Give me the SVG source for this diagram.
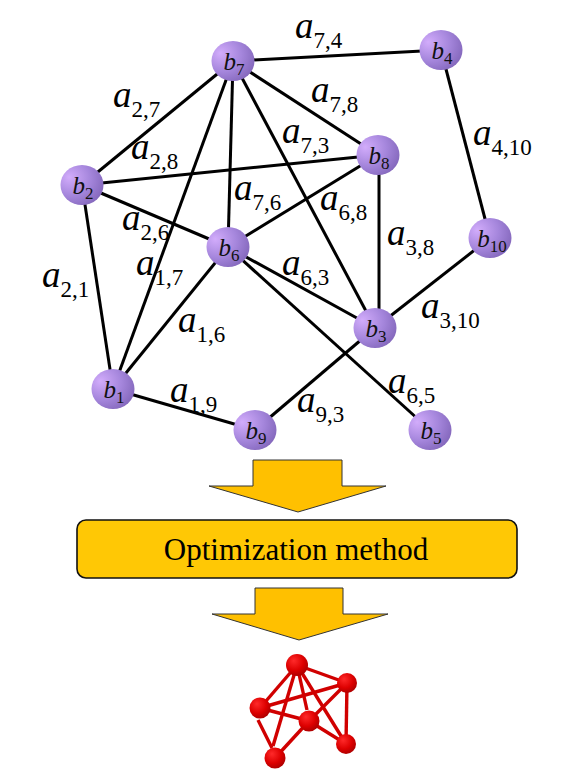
<svg xmlns="http://www.w3.org/2000/svg" width="583" height="782" viewBox="0 0 583 782">
<defs>
<radialGradient id="gNode" cx="0.3" cy="0.35" r="0.8" fx="0.2" fy="0.3">
<stop offset="0" stop-color="#d2acfb"/>
<stop offset="0.55" stop-color="#a586dc"/>
<stop offset="1" stop-color="#8064b8"/>
</radialGradient>
<radialGradient id="gRed" cx="0.4" cy="0.35" r="0.7" fx="0.35" fy="0.3">
<stop offset="0" stop-color="#ff2a2a"/>
<stop offset="0.6" stop-color="#dd0000"/>
<stop offset="1" stop-color="#a80000"/>
</radialGradient>
<style>
.edge{stroke:#000;stroke-width:3;fill:none;stroke-linecap:butt}
.node ellipse{fill:url(#gNode)}
.nt{font-family:"Liberation Serif",serif;font-style:italic;font-size:25px;fill:#111;text-anchor:middle}
.ns{font-style:normal;font-size:17px}
.lab{font-family:"Liberation Serif",serif;font-style:italic;font-size:37px;fill:#000}
.sub{font-style:normal;font-size:23px}
.arrow{fill:#ffc000;stroke:#333;stroke-width:1}
.box{fill:#ffc805;stroke:#111;stroke-width:1.6}
.btxt{font-family:"Liberation Serif",serif;font-size:31px;fill:#000;text-anchor:middle}
.redge{stroke:#d00000;stroke-width:3.4;fill:none}
.rnode{fill:url(#gRed)}
</style>
</defs>
<g id="connectors">
<line class="edge" x1="233" y1="61" x2="441" y2="50"/>
<line class="edge" x1="233" y1="61" x2="82" y2="185"/>
<line class="edge" x1="233" y1="61" x2="378" y2="155"/>
<line class="edge" x1="233" y1="61" x2="375" y2="328"/>
<line class="edge" x1="233" y1="61" x2="228" y2="247"/>
<line class="edge" x1="233" y1="61" x2="113" y2="389"/>
<line class="edge" x1="82" y1="185" x2="378" y2="155"/>
<line class="edge" x1="82" y1="185" x2="228" y2="247"/>
<line class="edge" x1="82" y1="185" x2="113" y2="389"/>
<line class="edge" x1="228" y1="247" x2="378" y2="155"/>
<line class="edge" x1="228" y1="247" x2="375" y2="328"/>
<line class="edge" x1="228" y1="247" x2="430" y2="430"/>
<line class="edge" x1="228" y1="247" x2="113" y2="389"/>
<line class="edge" x1="379" y1="170" x2="379" y2="312"/>
<line class="edge" x1="441" y1="50" x2="490" y2="238"/>
<line class="edge" x1="490" y1="238" x2="375" y2="328"/>
<line class="edge" x1="113" y1="389" x2="255" y2="430"/>
<line class="edge" x1="255" y1="430" x2="375" y2="328"/>
</g>
<g id="labels">
<text class="lab" x="295" y="38">a<tspan class="sub" dy="9.5">7,4</tspan></text>
<text class="lab" x="113" y="107">a<tspan class="sub" dy="9.5">2,7</tspan></text>
<text class="lab" x="311" y="102">a<tspan class="sub" dy="9.5">7,8</tspan></text>
<text class="lab" x="282" y="143">a<tspan class="sub" dy="9.5">7,3</tspan></text>
<text class="lab" x="131" y="159">a<tspan class="sub" dy="9.5">2,8</tspan></text>
<text class="lab" x="473" y="145">a<tspan class="sub" dy="9.5">4,10</tspan></text>
<text class="lab" x="234" y="200">a<tspan class="sub" dy="9.5">7,6</tspan></text>
<text class="lab" x="320" y="210">a<tspan class="sub" dy="9.5">6,8</tspan></text>
<text class="lab" x="122" y="230">a<tspan class="sub" dy="9.5">2,6</tspan></text>
<text class="lab" x="387" y="245">a<tspan class="sub" dy="9.5">3,8</tspan></text>
<text class="lab" x="136" y="275">a<tspan class="sub" dy="9.5">1,7</tspan></text>
<text class="lab" x="42" y="287">a<tspan class="sub" dy="9.5">2,1</tspan></text>
<text class="lab" x="282" y="275">a<tspan class="sub" dy="9.5">6,3</tspan></text>
<text class="lab" x="421" y="318">a<tspan class="sub" dy="9.5">3,10</tspan></text>
<text class="lab" x="178" y="332">a<tspan class="sub" dy="9.5">1,6</tspan></text>
<text class="lab" x="388" y="393">a<tspan class="sub" dy="9.5">6,5</tspan></text>
<text class="lab" x="170" y="402">a<tspan class="sub" dy="9.5">1,9</tspan></text>
<text class="lab" x="297" y="412">a<tspan class="sub" dy="9.5">9,3</tspan></text>
</g>
<g id="b7" class="node"><ellipse cx="233" cy="61" rx="21.5" ry="20"/><text class="nt" x="234" y="70">b<tspan class="ns" dy="5">7</tspan></text></g>
<g id="b4" class="node"><ellipse cx="441" cy="50" rx="21.5" ry="20"/><text class="nt" x="442" y="59">b<tspan class="ns" dy="5">4</tspan></text></g>
<g id="b8" class="node"><ellipse cx="378" cy="155" rx="21.5" ry="20"/><text class="nt" x="379" y="164">b<tspan class="ns" dy="5">8</tspan></text></g>
<g id="b2" class="node"><ellipse cx="82" cy="185" rx="21.5" ry="20"/><text class="nt" x="83" y="194">b<tspan class="ns" dy="5">2</tspan></text></g>
<g id="b6" class="node"><ellipse cx="228" cy="247" rx="21.5" ry="20"/><text class="nt" x="229" y="256">b<tspan class="ns" dy="5">6</tspan></text></g>
<g id="b10" class="node"><ellipse cx="490" cy="238" rx="21.5" ry="20"/><text class="nt" x="492" y="247">b<tspan class="ns" dy="5">10</tspan></text></g>
<g id="b3" class="node"><ellipse cx="375" cy="328" rx="21.5" ry="20"/><text class="nt" x="376" y="337">b<tspan class="ns" dy="5">3</tspan></text></g>
<g id="b1" class="node"><ellipse cx="113" cy="389" rx="21.5" ry="20"/><text class="nt" x="114" y="398">b<tspan class="ns" dy="5">1</tspan></text></g>
<g id="b9" class="node"><ellipse cx="255" cy="430" rx="21.5" ry="20"/><text class="nt" x="256" y="439">b<tspan class="ns" dy="5">9</tspan></text></g>
<g id="b5" class="node"><ellipse cx="430" cy="430" rx="21.5" ry="20"/><text class="nt" x="431" y="439">b<tspan class="ns" dy="5">5</tspan></text></g>
<g id="arrow1"><polygon class="arrow" points="253,460 342,460 342,486 386,486 298,512 209,486 253,486"/></g>
<g id="method"><rect class="box" x="77" y="520" width="440" height="58" rx="9"/><text class="btxt" x="296" y="560">Optimization method</text></g>
<g id="arrow2"><polygon class="arrow" points="255,588 343,588 343,614 388,614 299,640 212,614 255,614"/></g>
<g id="molecule">
<line class="redge" x1="297" y1="665" x2="347" y2="683"/>
<line class="redge" x1="297" y1="665" x2="260" y2="708"/>
<line class="redge" x1="297" y1="665" x2="307" y2="710"/>
<line class="redge" x1="297" y1="665" x2="273" y2="746"/>
<line class="redge" x1="297" y1="665" x2="346" y2="744"/>
<line class="redge" x1="260" y1="708" x2="347" y2="683"/>
<line class="redge" x1="347" y1="683" x2="346" y2="744"/>
<line class="redge" x1="347" y1="683" x2="309" y2="721"/>
<line class="redge" x1="260" y1="708" x2="309" y2="721"/>
<line class="redge" x1="258" y1="720" x2="272" y2="748"/>
<line class="redge" x1="309" y1="721" x2="275" y2="758"/>
<line class="redge" x1="309" y1="721" x2="346" y2="744"/>
<circle class="rnode" cx="297" cy="665" r="11"/>
<circle class="rnode" cx="347" cy="683" r="10"/>
<circle class="rnode" cx="260" cy="708" r="10.5"/>
<circle class="rnode" cx="309" cy="721" r="10.5"/>
<circle class="rnode" cx="275" cy="758" r="10.5"/>
<circle class="rnode" cx="346" cy="744" r="10"/>
</g>
</svg>
